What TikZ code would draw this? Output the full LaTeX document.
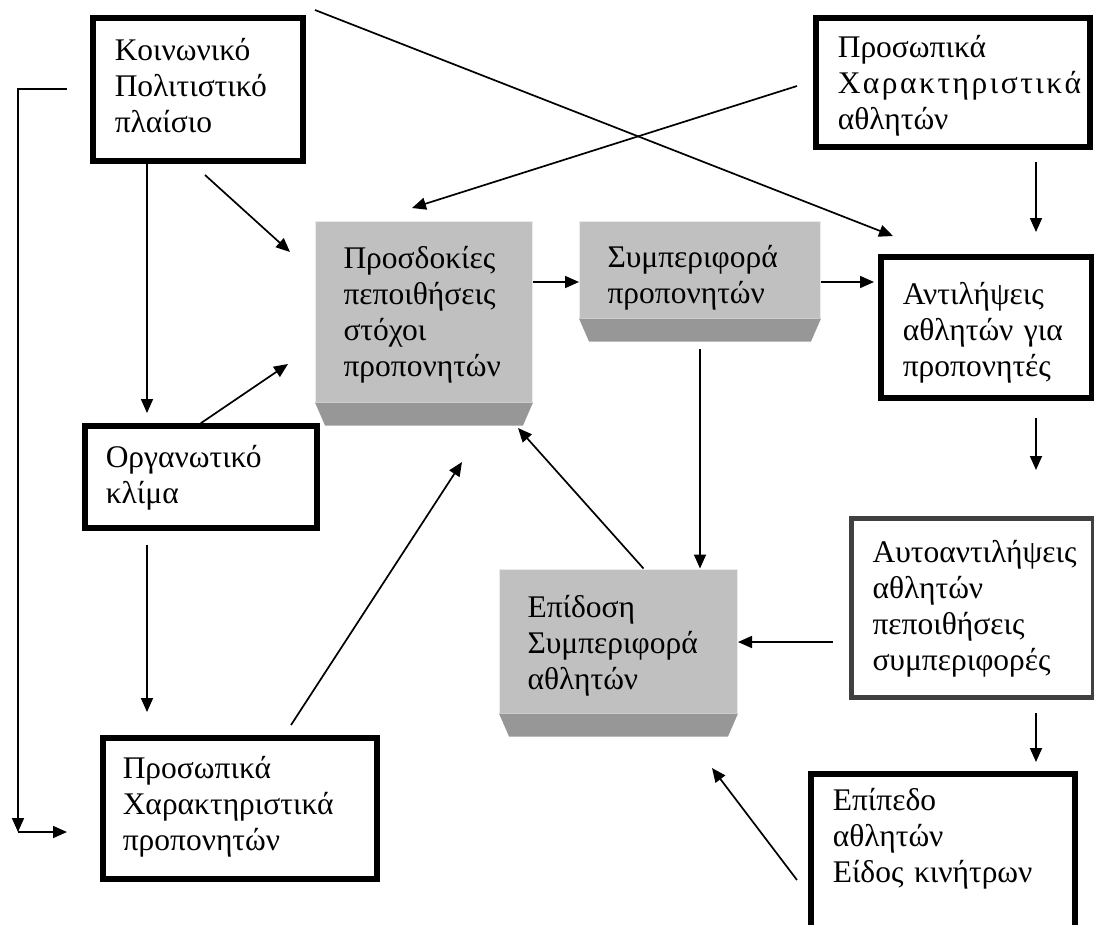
\documentclass[tikz,border=0pt]{standalone}
\usepackage{fontspec}
\setmainfont{Liberation Serif}
\usetikzlibrary{arrows.meta,calc}
\definecolor{boxgray}{HTML}{C0C0C0}
\definecolor{bevelgray}{HTML}{979797}

\tikzset{
  outbox/.style={draw, line width=5.5pt, anchor=base west, align=left, inner ysep=0pt,
    font=\fontsize{31.5}{36}\selectfont},
  graybox/.style={fill=boxgray, draw=black!8, line width=1pt, anchor=base west, align=left,
    inner ysep=0pt, font=\fontsize{31.5}{36}\selectfont},
  bevel/.style={fill=bevelgray},
  arr/.style={-{Triangle[length=14pt,width=12pt]}, line width=1.7pt}
}

\begin{document}
\begin{tikzpicture}[x=1pt,y=-1pt]
  \useasboundingbox (0,0) rectangle (1094,924);

  \node[outbox, inner xsep=22pt, text width=166pt, text height=42pt, text depth=101pt]
    (koin) at (90,60) {Κοινωνικό\\Πολιτιστικό\\πλαίσιο};
  \node[outbox, inner xsep=22pt, text width=230pt, text height=39pt, text depth=90pt]
    (persAth) at (813,57) {Προσωπικά\\{\addfontfeature{LetterSpace=7.9}Χαρακτηριστικά}\\αθλητών};
  \node[graybox, inner xsep=28pt, text width=161pt, text height=47pt, text depth=134pt]
    (expect) at (315,268) {Προσδοκίες\\πεποιθήσεις\\στόχοι\\προπονητών};
  \node[graybox, inner xsep=28pt, text width=185pt, text height=46pt, text depth=51pt]
    (coachBeh) at (579,267) {Συμπεριφορά\\προπονητών};
  \node[outbox, inner xsep=22pt, text width=167pt, text height=47pt, text depth=94pt]
    (percept) at (878,304) {Αντιλήψεις\\αθλητών~για\\προπονητές};
  \node[outbox, inner xsep=21pt, text width=190pt, text height=41pt, text depth=61pt]
    (org) at (82,467) {Οργανωτικό\\κλίμα};
  \node[outbox, draw=black!75, line width=5pt, inner xsep=21pt, text width=200pt, text height=44pt, text depth=135pt]
    (selfPer) at (849,562) {Αυτοαντιλήψεις\\αθλητών\\πεποιθήσεις\\συμπεριφορές};
  \node[graybox, inner xsep=28pt, text width=182pt, text height=48pt, text depth=96pt]
    (perf) at (499,617) {Επίδοση\\Συμπεριφορά\\αθλητών};
  \node[outbox, inner xsep=22pt, text width=220pt, text height=36pt, text depth=120pt]
    (level) at (808,810) {Επίπεδο\\αθλητών\\Είδος~κινήτρων};
  \node[outbox, inner xsep=20pt, text width=234pt, text height=40pt, text depth=101pt]
    (persCoach) at (100,778) {Προσωπικά\\Χαρακτηριστικά\\προπονητών};

  \foreach \n in {expect,coachBeh,perf}
    \fill[bevel] (\n.south west) -- (\n.south east) -- ([xshift=-10pt,yshift=-23pt]\n.south east)
      -- ([xshift=10pt,yshift=-23pt]\n.south west) -- cycle;

  \coordinate (koinTip) at (147,413);
  \coordinate (koinDiag) at (205,175);
  \coordinate (koinDiagTip) at (290,252);
  \coordinate (koinLong) at (315,10);
  \coordinate (koinLongTip) at (893,236);
  \coordinate (athLong) at (797,86);
  \coordinate (athLongTip) at (412,208);
  \coordinate (athDown) at (1036,162);
  \coordinate (athDownTip) at (1036,232);
  \coordinate (row) at (0,282);
  \coordinate (coachDown) at (700,349);
  \coordinate (perfUpTip) at (518,428);
  \coordinate (percDown) at (1036,418);
  \coordinate (percDownTip) at (1036,470);
  \coordinate (selfLeft) at (833,642);
  \coordinate (selfDown) at (1036,713);
  \coordinate (selfDownTip) at (1036,762);
  \coordinate (levelUp) at (797,880);
  \coordinate (levelUpTip) at (712,768);
  \coordinate (orgUpTip) at (288,364);
  \coordinate (orgDown) at (147,545);
  \coordinate (orgDownTip) at (147,712);
  \coordinate (pcUp) at (291,725);
  \coordinate (pcUpTip) at (462,462);
  \coordinate (loopTop) at (67,89);
  \coordinate (loopCorner) at (18,832);
  \coordinate (loopTip) at (67,832);

  \draw[arr] (koin.south -| koinTip) -- (koinTip);
  \draw[arr] (koinDiag) -- (koinDiagTip);
  \draw[arr] (koinLong) -- (koinLongTip);
  \draw[arr] (athLong) -- (athLongTip);
  \draw[arr] (athDown) -- (athDownTip);
  \draw[arr] (expect.east |- row) -- (coachBeh.west |- row);
  \draw[arr, shorten >=4pt] (coachBeh.east |- row) -- (percept.west |- row);
  \draw[arr] (coachDown) -- (coachDown |- perf.north);
  \draw[arr] ([xshift=25pt]perf.north) -- (perfUpTip);
  \draw[arr] (percDown) -- (percDownTip);
  \draw[arr] (selfLeft) -- (selfLeft -| perf.east);
  \draw[arr] (selfDown) -- (selfDownTip);
  \draw[arr] (levelUp) -- (levelUpTip);
  \draw[arr] (org.north) -- (orgUpTip);
  \draw[arr] (orgDown) -- (orgDownTip);
  \draw[arr] (pcUp) -- (pcUpTip);
  \draw[arr] (loopTop) -| (loopCorner);
  \draw[arr] (loopCorner) -- (loopTip);
\end{tikzpicture}
\end{document}
